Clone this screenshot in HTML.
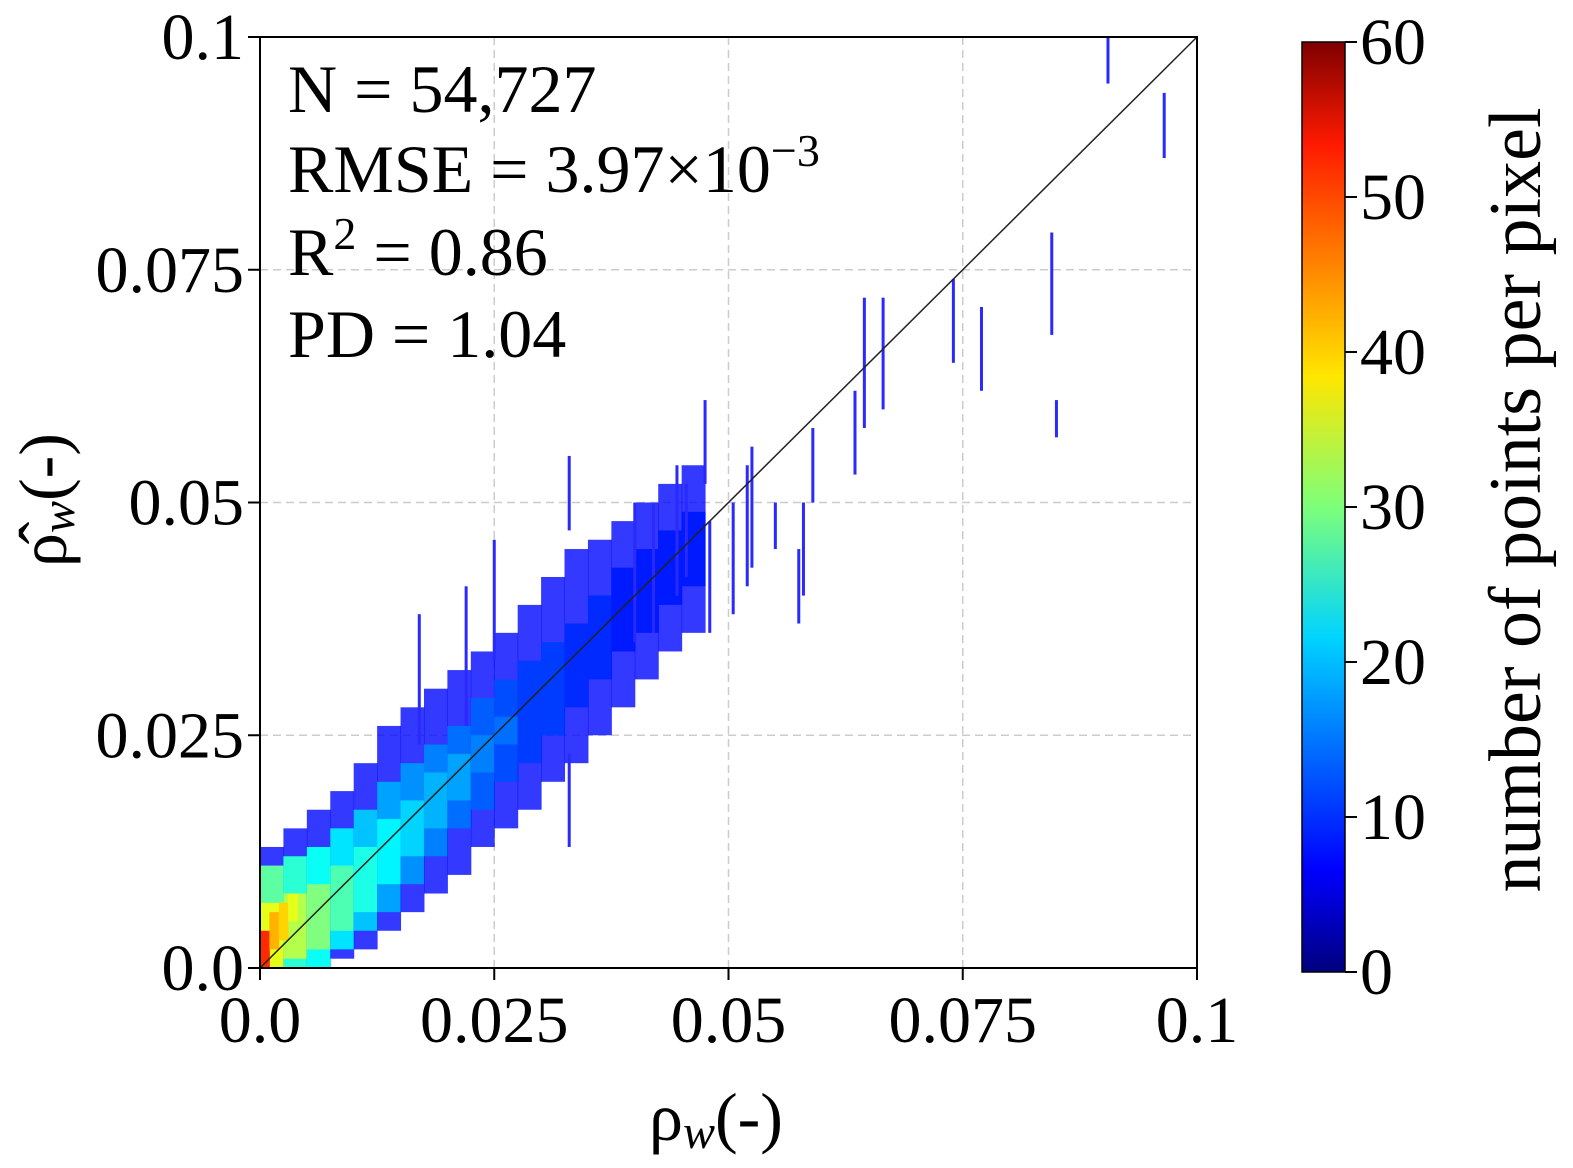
<!DOCTYPE html>
<html><head><meta charset="utf-8">
<style>
html,body{margin:0;padding:0;background:#fff;}
svg{display:block;font-family:"Liberation Serif",serif;}
</style></head>
<body>
<svg id="chart" width="1573" height="1168" viewBox="0 0 1573 1168" xmlns="http://www.w3.org/2000/svg">
<defs>
<linearGradient id="jet" x1="0" y1="1" x2="0" y2="0">
<stop offset="0" stop-color="#00007f"/><stop offset="0.11" stop-color="#0000ff"/>
<stop offset="0.36" stop-color="#00d4ff"/><stop offset="0.5" stop-color="#7dff7a"/>
<stop offset="0.64" stop-color="#ffe600"/><stop offset="0.89" stop-color="#ff1a00"/>
<stop offset="1" stop-color="#7f0000"/></linearGradient>
<clipPath id="plotclip"><rect x="260" y="37" width="937" height="931"/></clipPath>
</defs>
<g id="grid"></g>
<g id="marks" clip-path="url(#plotclip)"></g>
<line x1="260" y1="968" x2="1197" y2="37" stroke="#222" stroke-width="1.5"/>
<rect x="260" y="37" width="937" height="931" fill="none" stroke="#000" stroke-width="2"/>
<g id="ticks"></g>
<g font-size="68">
<text x="288" y="112">N = 54,727</text>
<text x="288" y="192">RMSE = 3.97×10<tspan dy="-26" font-size="46">−3</tspan></text>
<text x="288" y="275">R<tspan dy="-26" font-size="46">2</tspan><tspan dy="26"> = 0.86</tspan></text>
<text x="288" y="357">PD = 1.04</text>
</g>
<text x="716" y="1140" font-size="68" text-anchor="middle">ρ<tspan font-style="italic" font-size="48" dy="8">w</tspan><tspan dy="-8">(-)</tspan></text>
<text transform="translate(66,500) rotate(-90)" font-size="68" text-anchor="middle">ρ̂<tspan font-style="italic" font-size="48" dy="8">w</tspan><tspan dy="-8">(-)</tspan></text>
<rect x="1302" y="42" width="43" height="930" fill="url(#jet)" stroke="#000" stroke-width="1.5"/>
<g id="cticks"></g>
<text transform="translate(1540,500) rotate(-90)" font-size="74" text-anchor="middle">number of points per pixel</text>
</svg>
<script>
const xTicks=[0,0.025,0.05,0.075,0.1];
const xTickLabels=["0.0","0.025","0.05","0.075","0.1"];
const yTicks=[0,0.025,0.05,0.075,0.1];
const yTickLabels=["0.0","0.025","0.05","0.075","0.1"];
const cbTicks=[0,10,20,30,40,50,60];
const binX=[0,0.0025,0.005,0.0075,0.01,0.0125,0.015,0.0175,0.02,0.0225,0.025,0.0275,0.03,0.0325,0.035,0.0375,0.04,0.0425,0.045];
const outerLo=[0,0,0,0.001,0.002,0.004,0.006,0.008,0.01,0.013,0.015,0.017,0.02,0.022,0.025,0.028,0.031,0.034,0.036];
const outerHi=[0.013,0.015,0.017,0.019,0.022,0.026,0.028,0.03,0.032,0.034,0.036,0.039,0.042,0.045,0.046,0.048,0.05,0.052,0.054];
const midLo=[0,0,0,0.002,0.004,0.006,0.009,0.012,0.015,0.017,0.02,0.022,0.025,0.028,0.031,0.034,0.036,0.039,0.041];
const midHi=[0.011,0.012,0.013,0.015,0.017,0.02,0.022,0.024,0.026,0.029,0.031,0.033,0.035,0.037,0.04,0.043,0.045,0.047,0.049];
const midCount=[28,25,23,21,19,17,16,15,14,13,12,11,11,10,10,9,9,9,9];
const coreLo=[0,0.001,0.002,0.004,0.006,0.009,0.012,0.015,0.018,0.021,0.024,0,0,0,0,0,0,0,0];
const coreHi=[0.007,0.008,0.009,0.011,0.013,0.016,0.018,0.021,0.023,0.025,0.027,0,0,0,0,0,0,0,0];
const coreCount=[36,33,30,27,24,22,20,18,17,15,14,0,0,0,0,0,0,0,0];
const hotLo=[0,0.002,0.003,0.005];
const hotHi=[0.004,0.006,0.007,0.008];
const hotCount=[50,42,40,36];
const streakX=[0.0905,0.0965,0.0845,0.085,0.077,0.074,0.0645,0.0665,0.0635,0.058,0.0575,0.059,0.0525,0.0505,0.0475,0.048,0.0445,0.033,0.025,0.022,0.017,0.033,0.055,0.04,0.042,0.0455,0.052];
const streakLo=[0.095,0.087,0.068,0.057,0.062,0.065,0.058,0.060,0.053,0.040,0.037,0.050,0.043,0.038,0.052,0.036,0.040,0.047,0.033,0.026,0.024,0.013,0.045,0.035,0.036,0.042,0.041];
const streakHi=[0.100,0.094,0.079,0.061,0.071,0.074,0.072,0.072,0.062,0.050,0.045,0.058,0.056,0.050,0.061,0.048,0.054,0.055,0.046,0.041,0.038,0.023,0.050,0.050,0.050,0.052,0.054];

const X=v=>260+v*9370, Y=v=>968-v*9310;
const NS="http://www.w3.org/2000/svg";
function jet(c){const t=Math.max(0,Math.min(1,c/60));
 const r=Math.max(0,Math.min(1,1.5-Math.abs(4*t-3))),g=Math.max(0,Math.min(1,1.5-Math.abs(4*t-2))),b=Math.max(0,Math.min(1,1.5-Math.abs(4*t-1)));
 return `rgb(${Math.round(r*255)},${Math.round(g*255)},${Math.round(b*255)})`;}
function mk(tag,attrs,parent){const e=document.createElementNS(NS,tag);for(const k in attrs)e.setAttribute(k,attrs[k]);parent.appendChild(e);return e;}
const grid=document.getElementById('grid'),marks=document.getElementById('marks'),ticks=document.getElementById('ticks'),ct=document.getElementById('cticks');
xTicks.forEach((v,i)=>{
 if(i>0&&i<xTicks.length-1){const l=mk('line',{x1:X(v),x2:X(v),y1:37,y2:968,stroke:'#ccc','stroke-dasharray':'8,5','stroke-width':1.5},grid);
 
 }
 const tk=mk('line',{x1:X(v),x2:X(v),y1:968,y2:980,stroke:'#000','stroke-width':2},ticks);
 
 
 const t=mk('text',{x:X(v),y:1042,'font-size':66,'text-anchor':'middle'},ticks);t.textContent=xTickLabels[i];
 
 
});
yTicks.forEach((v,i)=>{
 if(i>0&&i<yTicks.length-1){const l=mk('line',{x1:260,x2:1197,y1:Y(v),y2:Y(v),stroke:'#ccc','stroke-dasharray':'8,5','stroke-width':1.5},grid);
 
 }
 const tk=mk('line',{x1:248,x2:260,y1:Y(v),y2:Y(v),stroke:'#000','stroke-width':2},ticks);
 
 
 const t=mk('text',{x:244,y:Y(v)+22,'font-size':66,'text-anchor':'end'},ticks);t.textContent=yTickLabels[i];
 
 
});
const W=0.0025;
binX.forEach((x,i)=>{
 const o=mk('rect',{x:X(x),width:W*9370+0.5,y:Y(outerHi[i]),height:Y(outerLo[i])-Y(outerHi[i]),fill:jet(8),opacity:0.8},marks);
 
 
 const m=mk('rect',{x:X(x),width:W*9370+0.5,y:Y(midHi[i]),height:Y(midLo[i])-Y(midHi[i]),fill:jet(midCount[i])},marks);
 
 
 if(coreCount[i]>0){const c=mk('rect',{x:X(x),width:W*9370+0.5,y:Y(coreHi[i]),height:Y(coreLo[i])-Y(coreHi[i]),fill:jet(coreCount[i])},marks);
 
 }
});
hotLo.forEach((lo,i)=>{
 const h=mk('rect',{x:X(i*0.001),width:0.001*9370+0.5,y:Y(hotHi[i]),height:Y(lo)-Y(hotHi[i]),fill:jet(hotCount[i])},marks);
 
 
});
streakX.forEach((x,i)=>{
 const s=mk('rect',{x:X(x)-1.5,width:3,y:Y(streakHi[i]),height:Y(streakLo[i])-Y(streakHi[i]),fill:'#2a2aff'},marks);
 
 
});
cbTicks.forEach(v=>{
 const y=972-v/60*930;
 const tk=mk('line',{x1:1345,x2:1357,y1:y,y2:y,stroke:'#000','stroke-width':2},ct);
 
 
 const t=mk('text',{x:1360,y:y+22,'font-size':66},ct);t.textContent=v;
 
 
});
</script>
</body></html>
